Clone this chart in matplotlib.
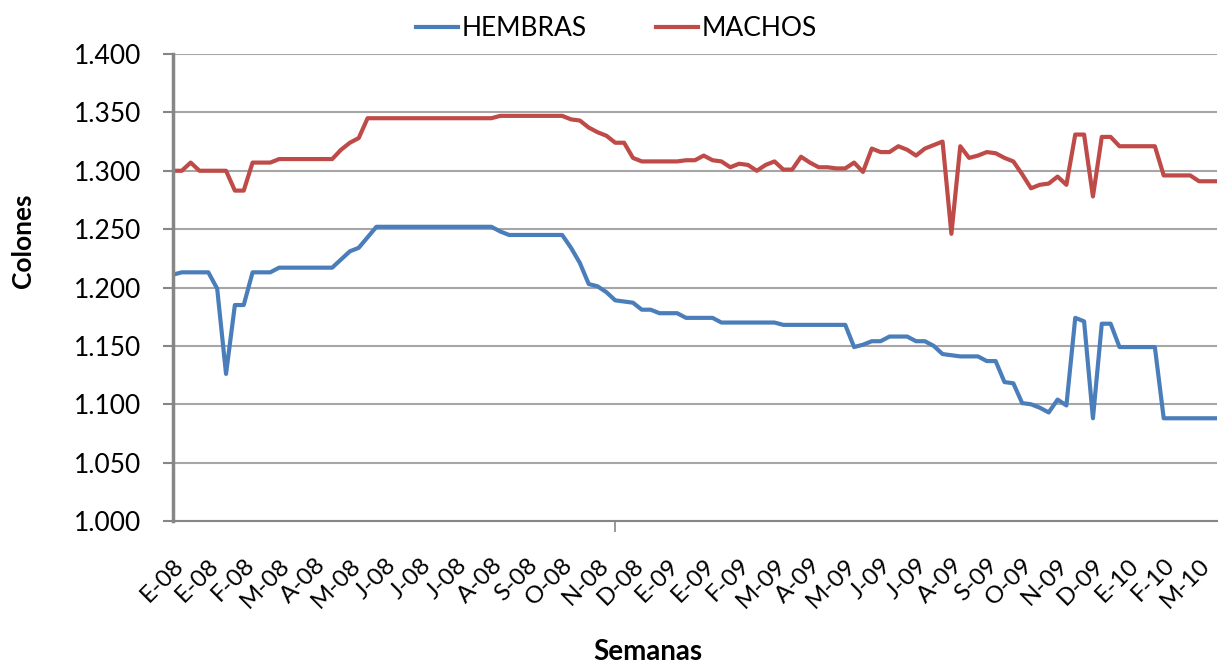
import numpy as np
import matplotlib.pyplot as plt

plt.rcParams['font.family'] = ['Lato', 'DejaVu Sans']

# Month labels, shown every 4th week
etiquetas = ['E-08', 'E-08', 'F-08', 'M-08', 'A-08', 'M-08', 'J-08', 'J-08', 'J-08', 'A-08',
             'S-08', 'O-08', 'N-08', 'D-08', 'E-09', 'E-09', 'F-09', 'M-09', 'A-09', 'M-09',
             'J-09', 'J-09', 'A-09', 'S-09', 'O-09', 'N-09', 'D-09', 'E-10', 'F-10', 'M-10']

# Weekly prices (colones)
hembras = [1.211, 1.213, 1.213, 1.213, 1.213, 1.199, 1.126, 1.185, 1.185, 1.213,
           1.213, 1.213, 1.217, 1.217, 1.217, 1.217, 1.217, 1.217, 1.217, 1.224,
           1.231, 1.234, 1.243, 1.252, 1.252, 1.252, 1.252, 1.252, 1.252, 1.252,
           1.252, 1.252, 1.252, 1.252, 1.252, 1.252, 1.252, 1.248, 1.245, 1.245,
           1.245, 1.245, 1.245, 1.245, 1.245, 1.234, 1.221, 1.203, 1.201, 1.196,
           1.189, 1.188, 1.187, 1.181, 1.181, 1.178, 1.178, 1.178, 1.174, 1.174,
           1.174, 1.174, 1.170, 1.170, 1.170, 1.170, 1.170, 1.170, 1.170, 1.168,
           1.168, 1.168, 1.168, 1.168, 1.168, 1.168, 1.168, 1.149, 1.151, 1.154,
           1.154, 1.158, 1.158, 1.158, 1.154, 1.154, 1.150, 1.143, 1.142, 1.141,
           1.141, 1.141, 1.137, 1.137, 1.119, 1.118, 1.101, 1.100, 1.097, 1.093,
           1.104, 1.099, 1.174, 1.171, 1.088, 1.169, 1.169, 1.149, 1.149, 1.149,
           1.149, 1.149, 1.088, 1.088, 1.088, 1.088, 1.088, 1.088, 1.088]

machos = [1.300, 1.300, 1.307, 1.300, 1.300, 1.300, 1.300, 1.283, 1.283, 1.307,
          1.307, 1.307, 1.310, 1.310, 1.310, 1.310, 1.310, 1.310, 1.310, 1.318,
          1.324, 1.328, 1.345, 1.345, 1.345, 1.345, 1.345, 1.345, 1.345, 1.345,
          1.345, 1.345, 1.345, 1.345, 1.345, 1.345, 1.345, 1.347, 1.347, 1.347,
          1.347, 1.347, 1.347, 1.347, 1.347, 1.344, 1.343, 1.337, 1.333, 1.330,
          1.324, 1.324, 1.311, 1.308, 1.308, 1.308, 1.308, 1.308, 1.309, 1.309,
          1.313, 1.309, 1.308, 1.303, 1.306, 1.305, 1.300, 1.305, 1.308, 1.301,
          1.301, 1.312, 1.307, 1.303, 1.303, 1.302, 1.302, 1.307, 1.299, 1.319,
          1.316, 1.316, 1.321, 1.318, 1.313, 1.319, 1.322, 1.325, 1.246, 1.321,
          1.311, 1.313, 1.316, 1.315, 1.311, 1.308, 1.297, 1.285, 1.288, 1.289,
          1.295, 1.288, 1.331, 1.331, 1.278, 1.329, 1.329, 1.321, 1.321, 1.321,
          1.321, 1.321, 1.296, 1.296, 1.296, 1.296, 1.291, 1.291, 1.291]

semanas = np.arange(len(hembras))

fig = plt.figure(figsize=(12.18, 6.65), dpi=100)
ax = fig.add_axes([0.142, 0.2165, 0.857, 0.7023])

ax.plot(semanas, hembras, color='#4A7EBB', linewidth=3, label='HEMBRAS')
ax.plot(semanas, machos, color='#BE4B48', linewidth=3, label='MACHOS')

ax.set_xlim(0, len(hembras) - 1)
ax.set_ylim(1.0, 1.4)

yt = np.arange(1.0, 1.401, 0.05)
ax.set_yticks(yt)
ax.set_yticklabels([f'{v:.3f}' for v in yt], fontsize=19)
ax.yaxis.grid(True, color='#A6A6A6', linewidth=1.5)
ax.set_axisbelow(True)
ax.tick_params(axis='y', length=7, width=1.5, color='#868686', pad=16)

# labels every 4 weeks, tick marks every 50
ax.set_xticks(semanas[::4])
ax.set_xticklabels(etiquetas, rotation=45, ha='right', rotation_mode='anchor', fontsize=17.5)
ax.set_xticks([0, 50, 100], minor=True)
ax.tick_params(axis='x', which='major', length=0, pad=24)
ax.tick_params(axis='x', which='minor', length=8, width=1.2, color='#868686')

for s in ['top', 'right']:
    ax.spines[s].set_visible(False)
ax.spines['left'].set_color('#868686')
ax.spines['left'].set_linewidth(2.5)
ax.spines['bottom'].set_color('#868686')
ax.spines['bottom'].set_linewidth(1.5)

ax.set_ylabel('Colones', fontsize=19, fontweight='bold', labelpad=28)
ax.set_xlabel('Semanas', fontsize=20, fontweight='bold', labelpad=20)
ax.yaxis.label.set_y(0.60)
ax.xaxis.label.set_x(0.455)

fig.legend(loc='center', bbox_to_anchor=(0.506, 0.957), ncol=2, frameon=False,
           fontsize=19, handlelength=1.6, handletextpad=0.15, columnspacing=2.6)

fig.savefig('out.png', dpi=100)
